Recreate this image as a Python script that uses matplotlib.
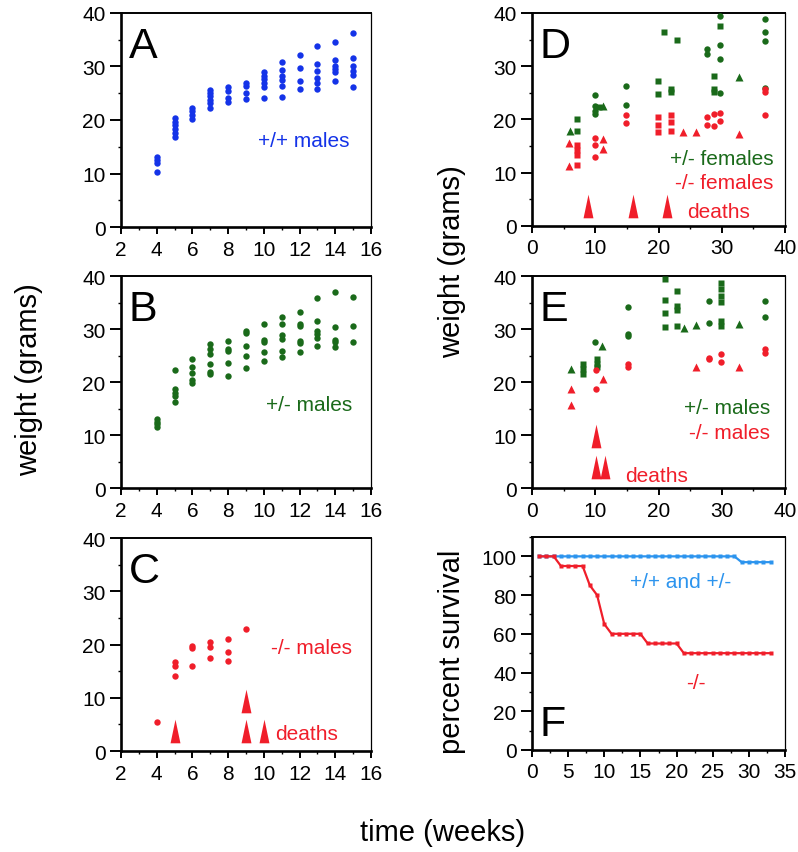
import numpy as np
import matplotlib
matplotlib.use("Agg")
import matplotlib.pyplot as plt
from matplotlib.path import Path
from matplotlib.ticker import MultipleLocator

plt.rcParams['font.family'] = ['Liberation Sans', 'DejaVu Sans']

BLUE = '#1433e8'
GREEN = '#1a6a1a'
RED = '#f01e2a'
F_BLUE = '#2c94ee'

# ---- A: +/+ males (week -> weights)
a_weeks = [4, 5, 6, 7, 8, 9, 10, 11, 12, 13, 14, 15]
a_weights = [
    [13.0, 12.5, 12.0, 10.3],
    [20.3, 19.6, 19.0, 18.3, 17.6, 16.9],
    [22.3, 21.6, 20.9, 20.2],
    [25.6, 25.0, 24.4, 23.8, 23.1, 22.3],
    [26.1, 25.5, 24.1, 23.4],
    [27.0, 26.3, 25.0, 23.9],
    [28.9, 28.3, 27.6, 27.0, 26.1, 24.1],
    [30.8, 29.3, 28.3, 27.4, 26.3, 24.3],
    [32.1, 29.8, 27.3, 25.8],
    [33.9, 30.4, 29.2, 27.8, 27.0, 25.8],
    [34.6, 31.2, 30.1, 29.5, 28.9, 27.3],
    [36.2, 31.5, 30.1, 29.2, 28.4, 26.1],
]

# ---- B: +/- males
b_weeks = [4, 5, 6, 7, 8, 9, 10, 11, 12, 13, 14, 15]
b_weights = [
    [13.0, 12.5, 12.0, 11.6],
    [22.3, 18.6, 17.9, 17.4, 16.2],
    [24.3, 22.9, 21.7, 20.4, 19.9],
    [27.1, 26.2, 25.3, 23.4, 21.9, 21.5],
    [27.8, 26.3, 25.8, 23.6, 21.2],
    [29.7, 29.2, 26.8, 25.0, 22.6],
    [30.9, 28.0, 27.5, 25.6, 24.0],
    [32.3, 30.9, 28.8, 28.1, 25.9, 24.8],
    [33.3, 30.9, 30.5, 27.8, 27.3, 25.6],
    [35.9, 31.5, 29.7, 29.0, 28.4, 26.8],
    [37.0, 30.4, 28.0, 27.5, 26.6],
    [36.0, 30.5, 27.5],
]

# ---- C: -/- males
c_weeks = [4, 5, 6, 7, 8, 9]
c_weights = [
    [5.5],
    [16.8, 16.0, 14.0],
    [19.8, 19.3, 16.0],
    [20.5, 19.5, 17.4],
    [21.0, 18.5, 16.9],
    [22.9],
]
c_death_x = [5, 9, 9, 10]
c_death_y = [3.7, 3.7, 9.3, 3.7]

# ---- D: females (weeks 0-40), three mouse groups by marker
d_het_circ_x = [10.0, 10.0, 10.0, 10.0, 14.9, 14.9, 27.7, 27.7, 29.8, 29.8, 29.8, 29.8, 36.8, 36.8, 36.8, 36.8]
d_het_circ_y = [24.6, 22.6, 21.6, 21.0, 26.2, 22.8, 33.2, 32.3, 39.5, 34.0, 31.3, 25.0, 38.9, 36.4, 34.8, 26.0]
d_het_sq_x = [7.05, 7.05, 10.6, 19.9, 19.9, 20.9, 21.9, 21.9, 22.9, 28.8, 28.8, 28.8, 29.8]
d_het_sq_y = [20.1, 17.9, 22.4, 27.3, 24.8, 36.4, 25.8, 25.2, 35.0, 28.1, 25.7, 25.1, 37.5]
d_het_tri_x = [6.0, 11.2, 32.7]
d_het_tri_y = [17.9, 22.6, 27.9]

d_ko_circ_x = [10.0, 10.0, 10.0, 14.9, 14.9, 27.7, 27.7, 28.8, 28.8, 29.8, 29.8, 36.8, 36.8, 36.8]
d_ko_circ_y = [16.6, 15.2, 13.0, 20.9, 19.3, 20.4, 18.9, 21.0, 18.7, 21.3, 19.7, 25.7, 25.1, 20.9]
d_ko_sq_x = [7.05, 7.05, 7.05, 7.05, 19.9, 19.9, 19.9, 21.9, 21.9, 21.9]
d_ko_sq_y = [15.3, 14.2, 13.3, 11.5, 20.4, 18.9, 17.7, 20.8, 19.5, 17.9]
d_ko_tri_x = [5.9, 5.9, 11.2, 11.2, 23.9, 25.9, 32.7]
d_ko_tri_y = [15.5, 11.3, 16.3, 14.4, 17.7, 17.7, 17.2]
d_death_x = [8.8, 16.0, 21.4]
d_death_y = [3.8, 3.8, 3.8]

# ---- E: males (weeks 0-40)
e_het_circ_x = [10.0, 15.1, 15.1, 15.1, 28.0, 28.0, 36.8, 36.8]
e_het_circ_y = [27.6, 34.2, 29.0, 28.6, 35.2, 31.2, 35.2, 32.2]
e_het_sq_x = [8.1, 8.1, 8.1, 10.2, 10.2, 10.2, 21.0, 21.0, 21.0, 21.0, 22.9, 22.9, 22.9, 22.9,
              29.9, 29.9, 29.9, 29.9, 29.9, 29.9]
e_het_sq_y = [23.4, 22.4, 21.5, 24.3, 23.4, 22.8, 39.5, 35.5, 33.1, 30.3, 37.2, 34.4, 33.6, 30.5,
              38.7, 37.5, 36.3, 35.1, 31.5, 30.6]
e_het_tri_x = [6.2, 11.1, 24.0, 26.0, 32.8]
e_het_tri_y = [22.4, 26.8, 30.2, 30.7, 30.9]

e_ko_circ_x = [10.1, 10.1, 15.1, 15.1, 28.0, 28.0, 29.9, 29.9, 36.8, 36.8]
e_ko_circ_y = [22.3, 18.7, 23.4, 22.9, 24.6, 24.3, 25.3, 23.7, 26.2, 25.5]
e_ko_tri_x = [6.2, 6.2, 11.3, 26.0, 32.8]
e_ko_tri_y = [18.6, 15.7, 20.6, 22.8, 22.8]
e_death_x = [10.1, 10.1, 11.5]
e_death_y = [3.9, 9.8, 3.9]

# ---- F: percent survival
f_weeks = list(range(1, 34))
f_wt_het = [100] * 28 + [97] * 5
f_ko = ([100, 100, 100, 95, 95, 95, 95, 85, 80, 65] + [60] * 5 + [55] * 5 + [50] * 13)

# tall narrow triangle used for the "deaths" arrowheads
death_marker = Path([(-0.42, -1.0), (0.42, -1.0), (0.0, 1.0), (-0.42, -1.0)],
                    [Path.MOVETO, Path.LINETO, Path.LINETO, Path.CLOSEPOLY])

fig = plt.figure(figsize=(7.98, 8.53), dpi=100)

ax_a = fig.add_axes([0.1516, 0.7327, 0.3133, 0.2509])
ax_b = fig.add_axes([0.1516, 0.4267, 0.3133, 0.2485])
ax_c = fig.add_axes([0.1516, 0.1184, 0.3133, 0.2497])
ax_d = fig.add_axes([0.6667, 0.7339, 0.3170, 0.2497])
ax_e = fig.add_axes([0.6667, 0.4267, 0.3170, 0.2485])
ax_f = fig.add_axes([0.6667, 0.1196, 0.3170, 0.2497])


def style(ax, xlim, xmaj, xmin, ylim, ymaj, ymin):
    ax.set_xlim(*xlim)
    ax.set_ylim(*ylim)
    ax.xaxis.set_major_locator(MultipleLocator(xmaj))
    ax.xaxis.set_minor_locator(MultipleLocator(xmin))
    ax.yaxis.set_major_locator(MultipleLocator(ymaj))
    ax.yaxis.set_minor_locator(MultipleLocator(ymin))
    ax.tick_params(which='major', direction='out', labelsize=15, width=1.4, color='black')
    ax.tick_params(axis='y', which='major', length=8, pad=3)
    ax.tick_params(axis='x', which='major', length=5, pad=4)
    ax.tick_params(which='minor', direction='out', length=2.5, width=1.0)
    ax.spines['left'].set_linewidth(1.9)
    ax.spines['bottom'].set_linewidth(1.9)
    ax.spines['top'].set_linewidth(1.4)
    ax.spines['right'].set_linewidth(0.9)
    for side in ['right', 'top']:
        ax.spines[side].set_zorder(0.5)


def scatter_groups(ax, weeks, weights, color):
    for w, ys in zip(weeks, weights):
        ax.plot([w] * len(ys), ys, 'o', color=color, ms=4.6, mec='none', clip_on=False)


# A
style(ax_a, (2, 16), 2, 1, (0, 40), 10, 5)
scatter_groups(ax_a, a_weeks, a_weights, BLUE)
ax_a.text(9.7, 16.1, '+/+ males', color=BLUE, fontsize=15, va='center')
ax_a.text(0.03, 0.94, 'A', transform=ax_a.transAxes, fontsize=31, va='top')

# B
style(ax_b, (2, 16), 2, 1, (0, 40), 10, 5)
scatter_groups(ax_b, b_weeks, b_weights, GREEN)
ax_b.text(10.1, 15.8, '+/- males', color=GREEN, fontsize=15, va='center')
ax_b.text(0.03, 0.94, 'B', transform=ax_b.transAxes, fontsize=31, va='top')

# C
style(ax_c, (2, 16), 2, 1, (0, 40), 10, 5)
scatter_groups(ax_c, c_weeks, c_weights, RED)
ax_c.plot(c_death_x, c_death_y, linestyle='none', marker=death_marker, ms=17,
          color=RED, mec='none')
ax_c.text(10.4, 19.5, '-/- males', color=RED, fontsize=15, va='center')
ax_c.text(10.65, 3.2, 'deaths', color=RED, fontsize=15, va='center')
ax_c.text(0.03, 0.94, 'C', transform=ax_c.transAxes, fontsize=31, va='top')

# D
style(ax_d, (0, 40), 10, 5, (0, 40), 10, 5)
ax_d.plot(d_het_circ_x, d_het_circ_y, 'o', color=GREEN, ms=4.6, mec='none')
ax_d.plot(d_het_sq_x, d_het_sq_y, 's', color=GREEN, ms=5.0, mec='none')
ax_d.plot(d_het_tri_x, d_het_tri_y, '^', color=GREEN, ms=6.0, mec='none')
ax_d.plot(d_ko_circ_x, d_ko_circ_y, 'o', color=RED, ms=4.6, mec='none')
ax_d.plot(d_ko_sq_x, d_ko_sq_y, 's', color=RED, ms=5.0, mec='none')
ax_d.plot(d_ko_tri_x, d_ko_tri_y, '^', color=RED, ms=6.0, mec='none')
ax_d.plot(d_death_x, d_death_y, linestyle='none', marker=death_marker, ms=17,
          color=RED, mec='none')
ax_d.text(38.2, 12.6, '+/- females', color=GREEN, fontsize=15, va='center', ha='right')
ax_d.text(38.2, 8.2, '-/- females', color=RED, fontsize=15, va='center', ha='right')
ax_d.text(24.5, 2.8, 'deaths', color=RED, fontsize=15, va='center')
ax_d.text(0.03, 0.94, 'D', transform=ax_d.transAxes, fontsize=31, va='top')

# E
style(ax_e, (0, 40), 10, 5, (0, 40), 10, 5)
ax_e.plot(e_het_circ_x, e_het_circ_y, 'o', color=GREEN, ms=4.6, mec='none')
ax_e.plot(e_het_sq_x, e_het_sq_y, 's', color=GREEN, ms=5.0, mec='none', clip_on=False)
ax_e.plot(e_het_tri_x, e_het_tri_y, '^', color=GREEN, ms=6.0, mec='none')
ax_e.plot(e_ko_circ_x, e_ko_circ_y, 'o', color=RED, ms=4.6, mec='none')
ax_e.plot(e_ko_tri_x, e_ko_tri_y, '^', color=RED, ms=6.0, mec='none')
ax_e.plot(e_death_x, e_death_y, linestyle='none', marker=death_marker, ms=17,
          color=RED, mec='none')
ax_e.text(37.6, 15.2, '+/- males', color=GREEN, fontsize=15, va='center', ha='right')
ax_e.text(37.6, 10.5, '-/- males', color=RED, fontsize=15, va='center', ha='right')
ax_e.text(14.7, 2.4, 'deaths', color=RED, fontsize=15, va='center')
ax_e.text(0.03, 0.94, 'E', transform=ax_e.transAxes, fontsize=31, va='top')

# F
style(ax_f, (0, 35), 5, 2.5, (0, 110), 20, 10)
ax_f.plot(f_weeks, f_wt_het, '-s', color=F_BLUE, lw=1.6, ms=2.4, mec='none')
ax_f.plot(f_weeks, f_ko, '-s', color=RED, lw=1.6, ms=2.4, mec='none')
ax_f.text(20.5, 87, '+/+ and +/-', color=F_BLUE, fontsize=15, va='center', ha='center')
ax_f.text(22.7, 35, '-/-', color=RED, fontsize=15, va='center', ha='center')
ax_f.text(0.03, 0.03, 'F', transform=ax_f.transAxes, fontsize=31, va='bottom')

# shared labels
fig.text(0.036, 0.5545, 'weight (grams)', rotation=90, fontsize=21, ha='center', va='center')
fig.text(0.566, 0.693, 'weight (grams)', rotation=90, fontsize=21, ha='center', va='center')
fig.text(0.566, 0.2356, 'percent survival', rotation=90, fontsize=21, ha='center', va='center')
fig.text(0.555, 0.0234, 'time (weeks)', fontsize=21, ha='center', va='center')

fig.savefig('out.png', dpi=100)
